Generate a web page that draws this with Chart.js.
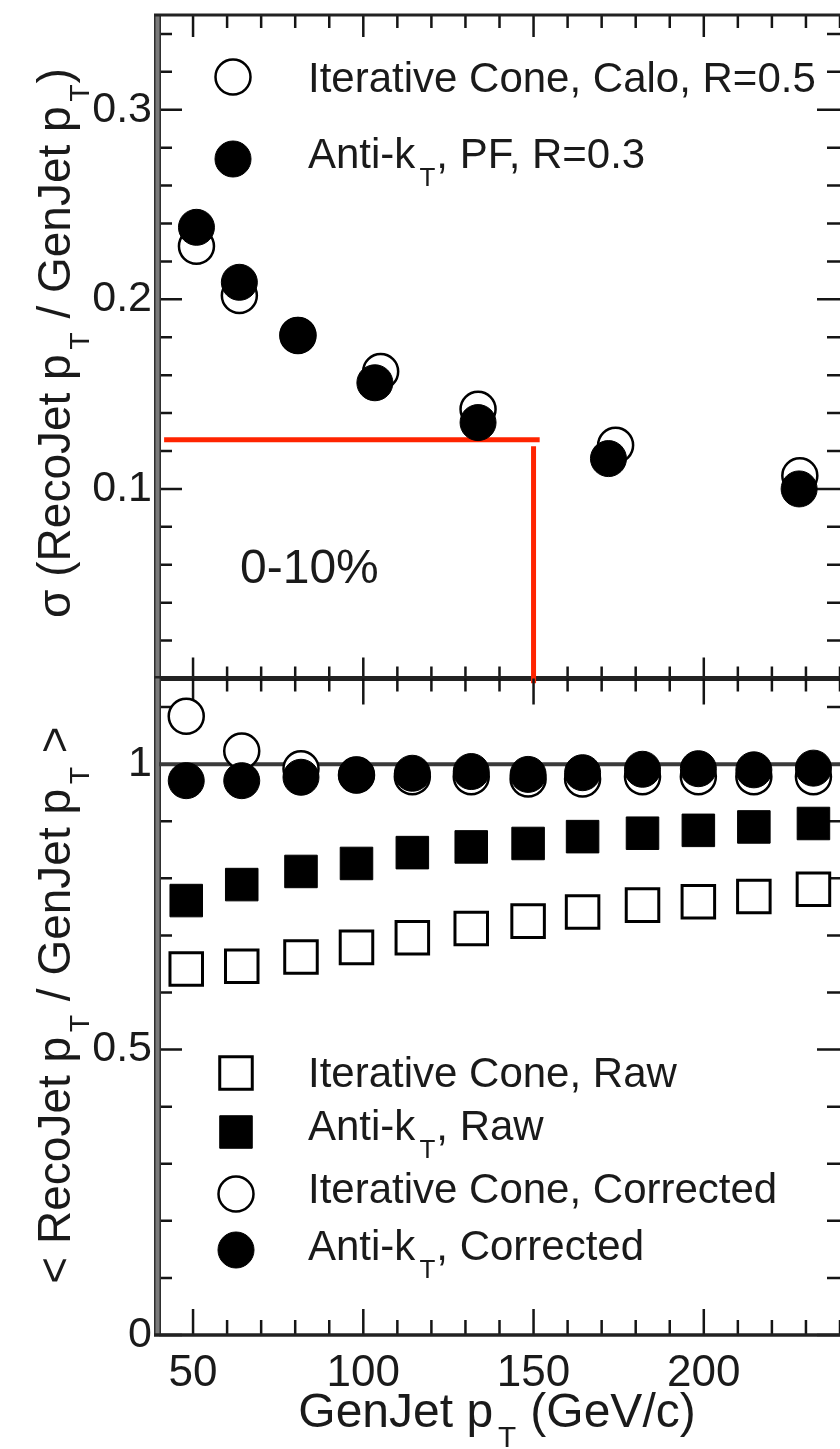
<!DOCTYPE html>
<html>
<head>
<meta charset="utf-8">
<title>Jet response, 0-10%</title>
<script src="https://cdn.jsdelivr.net/npm/chart.js@4"></script>
<style>
  html, body { margin: 0; padding: 0; background: #fff; overflow: hidden; }
  #wrap { position: relative; width: 840px; height: 1449px; overflow: hidden; }
  #wrap canvas { position: absolute; left: 0; top: 0; }
</style>
</head>
<body>
<div id="wrap">
  <canvas id="sigma" width="840" height="1449"></canvas>
  <canvas id="ratio" width="840" height="1449"></canvas>
</div>
<script>
// ---------- axes ----------
const xRange = [40, 240];
const xTicks = [50, 100, 150, 200];
const xMinorStep = 10;
const sigmaRange = [0, 0.35];
const sigmaTicks = [0.1, 0.2, 0.3];
const sigmaMinorStep = 0.02;
const ratioRange = [0, 1.15];
const ratioTicks = [0, 0.5, 1];
const ratioMinorStep = 0.1;

// ---------- upper panel: resolution ----------
const sigmaConeX = [51, 63.6, 80.8, 105.1, 133.7, 174.1, 228.2];
const sigmaCone  = [0.228, 0.202, 0.181, 0.162, 0.142, 0.123, 0.107];
const sigmaAktX  = [51, 63.6, 80.8, 103.4, 133.7, 172.0, 228.0];
const sigmaAkt   = [0.238, 0.209, 0.181, 0.156, 0.135, 0.116, 0.100];

// ---------- lower panel: response ----------
const ptBins   = [48.0, 64.3, 81.7, 98.0, 114.4, 131.7, 148.4, 164.4, 182.0, 198.4, 214.7, 232.2];
const coneRaw  = [0.641, 0.646, 0.662, 0.679, 0.696, 0.712, 0.725, 0.741, 0.753, 0.759, 0.768, 0.781];
const aktRaw   = [0.761, 0.789, 0.812, 0.826, 0.845, 0.855, 0.861, 0.873, 0.879, 0.884, 0.890, 0.896];
const coneCorr = [1.084, 1.023, 0.992, 0.981, 0.978, 0.978, 0.974, 0.974, 0.978, 0.978, 0.978, 0.978];
const aktCorr  = [0.971, 0.971, 0.977, 0.981, 0.984, 0.987, 0.982, 0.985, 0.991, 0.992, 0.990, 0.993];

// red guide lines drawn on the figure (data units)
const redLevel = 0.126, redFrom = 41.5, redTo = 151.8;
const redCut = 150, redHigh = 0.1225, redLow = -0.0025;

const FONT = '"Liberation Sans", Arial, Helvetica, sans-serif';
const INK = '#1a1a1a';
const RED = '#ff2400';

// marker styles
const openCircle   = { pointStyle: 'circle', pointRadius: 17.5, backgroundColor: '#fff', borderColor: '#000', borderWidth: 2.5 };
const filledCircle = { pointStyle: 'circle', pointRadius: 18,   backgroundColor: '#000', borderColor: '#000', borderWidth: 1 };
const openSquare   = { pointStyle: 'rect',   pointRadius: 23,   backgroundColor: '#fff', borderColor: '#000', borderWidth: 3 };
const filledSquare = { pointStyle: 'rect',   pointRadius: 23,   backgroundColor: '#000', borderColor: '#000', borderWidth: 1 };

const pts = (xs, ys) => xs.map((x, i) => ({ x: x, y: ys[i] }));

function marker(ctx, st, x, y) {
  ctx.save();
  ctx.beginPath();
  if (st.pointStyle === 'circle') {
    ctx.arc(x, y, st.pointRadius, 0, Math.PI * 2);
  } else {
    const h = st.pointRadius * Math.SQRT1_2;
    ctx.rect(x - h, y - h, 2 * h, 2 * h);
  }
  ctx.fillStyle = st.backgroundColor;
  ctx.fill();
  ctx.lineWidth = st.borderWidth;
  ctx.strokeStyle = st.borderColor;
  ctx.stroke();
  ctx.restore();
}

// text with subscripts: parts = [{t, sub}]
function rich(ctx, parts, x, y, size, align) {
  let w = 0;
  parts.forEach(p => {
    ctx.font = (p.sub ? size * 0.62 : size) + 'px ' + FONT;
    p.w = ctx.measureText(p.t).width + (p.sub ? size * 0.12 : 0);
    w += p.w;
  });
  let cx = align === 'center' ? x - w / 2 : x;
  parts.forEach(p => {
    ctx.font = (p.sub ? size * 0.62 : size) + 'px ' + FONT;
    ctx.fillText(p.t, cx + (p.sub ? size * 0.1 : 0), y + (p.sub ? size * 0.42 : 0));
    cx += p.w;
  });
}

// inward ticks + frame lines
function drawTicks(chart, spec) {
  const { ctx, chartArea: a, scales: { x, y } } = chart;
  ctx.save();
  ctx.strokeStyle = '#151515';
  ctx.lineWidth = 2.5;
  ctx.beginPath();
  for (let v = xRange[0]; v <= xRange[1]; v += xMinorStep) {
    const px = x.getPixelForValue(v);
    const major = xTicks.includes(v);
    if (spec.top) {
      ctx.moveTo(px, a.top);
      ctx.lineTo(px, a.top + (major ? spec.top[0] : spec.top[1]));
    }
    if (spec.bottom) {
      ctx.moveTo(px, a.bottom);
      ctx.lineTo(px, a.bottom - (major ? spec.bottom[0] : spec.bottom[1]));
    }
  }
  const n = Math.floor((y.max - y.min) / spec.yStep + 1e-6);
  for (let i = 0; i <= n; i++) {
    const v = y.min + i * spec.yStep;
    const major = spec.yMajor.some(t => Math.abs(t - v) < 1e-6);
    const py = y.getPixelForValue(v);
    const len = major ? 23 : 13;
    ctx.moveTo(a.left, py); ctx.lineTo(a.left + len, py);
    ctx.moveTo(a.right, py); ctx.lineTo(a.right - len, py);
  }
  ctx.stroke();

  // left axis: thick grey bar with dark edges
  ctx.fillStyle = '#2e2e2e';
  ctx.fillRect(a.left - 5, a.top, 7, a.bottom - a.top);
  ctx.fillStyle = '#7a7a7a';
  ctx.fillRect(a.left - 3.5, a.top, 4, a.bottom - a.top);

  ctx.strokeStyle = '#222';
  spec.edges.forEach(e => {
    ctx.lineWidth = e.w;
    ctx.beginPath();
    const yy = e.at === 'top' ? a.top : a.bottom;
    ctx.moveTo(a.left - 5, yy);
    ctx.lineTo(a.right, yy);
    ctx.stroke();
  });
  ctx.restore();
}

function yScale(range, ticks) {
  return {
    type: 'linear', min: range[0], max: range[1],
    grid: { display: false, drawTicks: false },
    border: { display: false },
    ticks: {
      color: INK, padding: 7, autoSkip: false,
      font: { family: FONT, size: 43 },
      callback: v => String(v)
    },
    afterBuildTicks: s => { s.ticks = ticks.map(v => ({ value: v })); },
    afterFit: s => { s.width = 159; s.paddingTop = 0; s.paddingBottom = 0; }
  };
}

const common = {
  responsive: false,
  animation: false,
  events: [],
  plugins: { legend: { display: false }, tooltip: { enabled: false } }
};

// ===============================
// UPPER PANEL
// ===============================
new Chart(document.getElementById('sigma'), {
  type: 'scatter',
  data: {
    datasets: [
      Object.assign({ data: pts(sigmaAktX, sigmaAkt) }, filledCircle),
      Object.assign({ data: pts(sigmaConeX, sigmaCone) }, openCircle),
      { data: [{ x: redFrom, y: redLevel }, { x: redTo, y: redLevel }], showLine: true,
        borderColor: RED, borderWidth: 5, pointRadius: 0, clip: false },
      { data: [{ x: redCut, y: redHigh }, { x: redCut, y: redLow }], showLine: true,
        borderColor: RED, borderWidth: 5, pointRadius: 0, clip: false }
    ]
  },
  options: Object.assign({}, common, {
    // right frame edge sits just outside the picture, as in the original
    layout: { autoPadding: false, padding: { top: 15, right: -6, bottom: 1449 - 678.5, left: 0 } },
    scales: {
      x: { type: 'linear', min: xRange[0], max: xRange[1], display: false },
      y: yScale(sigmaRange, sigmaTicks)
    }
  }),
  plugins: [{
    id: 'sigmaFrame',
    beforeDatasetsDraw(chart) {
      drawTicks(chart, {
        top: [22, 13], bottom: [21, 12],
        yStep: sigmaMinorStep, yMajor: sigmaTicks,
        edges: [{ at: 'top', w: 3 }, { at: 'bottom', w: 5 }]
      });
    },
    afterDraw(chart) {
      const ctx = chart.ctx;
      ctx.save();
      ctx.fillStyle = INK;
      ctx.textBaseline = 'alphabetic';
      marker(ctx, openCircle, 233, 77);
      marker(ctx, filledCircle, 233, 159);
      rich(ctx, [{ t: 'Iterative Cone, Calo, R=0.5' }], 308, 92, 42, 'left');
      rich(ctx, [{ t: 'Anti-k' }, { t: 'T', sub: true }, { t: ', PF, R=0.3' }], 308, 168, 42, 'left');
      ctx.font = '48px ' + FONT;
      ctx.fillText('0-10%', 240, 583);
      // y title
      ctx.translate(70, 343);
      ctx.rotate(-Math.PI / 2);
      rich(ctx, [{ t: 'σ (RecoJet p' }, { t: 'T', sub: true }, { t: ' / GenJet p' }, { t: 'T', sub: true }, { t: ')' }], 0, 0, 46, 'center');
      ctx.restore();
    }
  }]
});

// ===============================
// LOWER PANEL
// ===============================
new Chart(document.getElementById('ratio'), {
  type: 'scatter',
  data: {
    datasets: [
      Object.assign({ data: pts(ptBins, aktCorr) }, filledCircle),
      Object.assign({ data: pts(ptBins, coneCorr) }, openCircle),
      Object.assign({ data: pts(ptBins, aktRaw) }, filledSquare),
      Object.assign({ data: pts(ptBins, coneRaw) }, openSquare),
      { data: [{ x: xRange[0], y: 1 }, { x: xRange[1], y: 1 }], showLine: true,
        borderColor: '#3a3a3a', borderWidth: 4, pointRadius: 0 }
    ]
  },
  options: Object.assign({}, common, {
    layout: { autoPadding: false, padding: { top: 678.5, right: -6, bottom: 0, left: 0 } },
    scales: {
      x: {
        type: 'linear', min: xRange[0], max: xRange[1],
        grid: { display: false, drawTicks: false },
        border: { display: false },
        ticks: {
          color: INK, padding: 12, autoSkip: false, maxRotation: 0,
          font: { family: FONT, size: 44 },
          callback: v => String(v)
        },
        afterBuildTicks: s => { s.ticks = xTicks.map(v => ({ value: v })); },
        afterFit: s => { s.height = 1449 - 1335; s.paddingLeft = 0; s.paddingRight = 0; }
      },
      y: yScale(ratioRange, ratioTicks)
    }
  }),
  plugins: [{
    id: 'ratioFrame',
    beforeDatasetsDraw(chart) {
      drawTicks(chart, {
        top: [26, 13], bottom: [26, 15],
        yStep: ratioMinorStep, yMajor: ratioTicks,
        edges: [{ at: 'bottom', w: 3.5 }]
      });
    },
    afterDraw(chart) {
      const ctx = chart.ctx;
      ctx.save();
      ctx.fillStyle = INK;
      marker(ctx, openSquare, 236, 1073);
      marker(ctx, filledSquare, 236, 1132);
      marker(ctx, openCircle, 236, 1194);
      marker(ctx, filledCircle, 236, 1250);
      rich(ctx, [{ t: 'Iterative Cone, Raw' }], 308, 1087, 42, 'left');
      rich(ctx, [{ t: 'Anti-k' }, { t: 'T', sub: true }, { t: ', Raw' }], 308, 1140, 42, 'left');
      rich(ctx, [{ t: 'Iterative Cone, Corrected' }], 308, 1203, 42, 'left');
      rich(ctx, [{ t: 'Anti-k' }, { t: 'T', sub: true }, { t: ', Corrected' }], 308, 1260, 42, 'left');
      // x title
      rich(ctx, [{ t: 'GenJet p' }, { t: 'T', sub: true }, { t: ' (GeV/c)' }], 497, 1427, 48, 'center');
      // y title
      ctx.translate(70, 1005);
      ctx.rotate(-Math.PI / 2);
      rich(ctx, [{ t: '< RecoJet p' }, { t: 'T', sub: true }, { t: ' / GenJet p' }, { t: 'T', sub: true }, { t: ' >' }], 0, 0, 46, 'center');
      ctx.restore();
    }
  }]
});
</script>
</body>
</html>
